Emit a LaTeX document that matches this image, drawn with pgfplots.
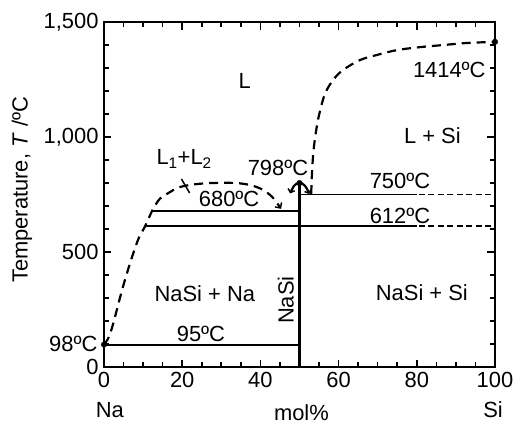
\documentclass[border=0pt]{standalone}
\usepackage{fontspec}
\setmainfont{Liberation Sans}
\usepackage{pgfplots}
\pgfplotsset{compat=1.18}
\usetikzlibrary{arrows.meta}

\newcommand{\lbl}{\fontsize{22}{26}\selectfont}

\begin{document}
\begin{tikzpicture}
\begin{axis}[
  scale only axis,
  width=391bp, height=345bp,
  xmin=0, xmax=100, ymin=0, ymax=1500,
  clip=false,
  axis line style={line width=2pt},
  xtick={0,20,...,100}, ytick={0,500,1000,1500},
  minor x tick num=3, minor y tick num=4,
  tick align=inside,
  major tick length=7.5bp, minor tick length=5bp,
  every tick/.style={line width=1.6pt, black},
  /pgf/number format/assume math mode=true,
  /pgf/number format/1000 sep={,},
  tick label style={font=\lbl},
  xticklabel style={yshift=-2bp},
  yticklabel style={xshift=-2bp},
]
% overall extent of the figure
\path (axis cs:-26.6,-252) rectangle (axis cs:106.4,1596);

% liquidus, Na side
\addplot[line width=2.2pt, dash pattern=on 9bp off 6bp, smooth, tension=0.5,
  -{Straight Barb[length=4bp,width=8bp,line width=1.5pt]}]
  coordinates {(0,98) (1,122) (2,168) (3,230) (4,296) (5,358) (6,415) (7,470)
    (8,520) (9,565) (10.5,612) (12.4,682) (14.3,732) (16.9,761) (18.9,780)
    (22,792) (26,799) (30,801) (34,800) (37.5,791)
    (40.5,772) (43,740) (45.3,688)};

% liquidus, Si side
\addplot[line width=2.2pt, dash pattern=on 9bp off 6bp, smooth, tension=0.6]
  coordinates {(53,752) (53.2,843) (53.6,943) (54.4,1043) (55.3,1117) (56.6,1191)
    (58.6,1248) (61.1,1291) (65.5,1335) (69.8,1357) (74.9,1378) (80.8,1391)
    (86.7,1400) (92.8,1409) (100,1414)};

% congruent melting of NaSi
\addplot[line width=2.2pt, smooth, tension=0.8,
  {Straight Barb[length=3bp,width=7bp,line width=1.5pt]}-{Straight Barb[length=3bp,width=7bp,line width=1.5pt]}]
  coordinates {(47.6,755) (48.6,788) (50,800) (51.4,788) (52.5,752)};

% NaSi line compound
\addplot[line width=2.2pt] coordinates {(50,0) (50,798)};

% invariant horizontals
\addplot[line width=1.8pt] coordinates {(0,95) (50,95)};
\addplot[line width=1.8pt] coordinates {(12.4,680) (50,680)};
\addplot[line width=1.8pt] coordinates {(10.5,612) (80,612)};
\addplot[line width=1.8pt, dash pattern=on 6bp off 3.5bp] coordinates {(80.5,612) (100,612)};
\addplot[line width=1.8pt] coordinates {(50,750) (80,750)};
\addplot[line width=1.8pt, dash pattern=on 6bp off 3.5bp] coordinates {(80.5,750) (100,750)};

% pointer for the miscibility gap
\addplot[line width=1.5pt] coordinates {(19.8,818) (21.9,757)};

% melting points
\addplot[only marks, mark=*, mark size=2.8bp, black]
  coordinates {(0,98) (50,800) (100,1414)};

% phase fields and temperatures
\node[font=\lbl] at (axis cs:36,1243) {L};
\node[font=\lbl] at (axis cs:84,1004) {L + Si};
\node[font=\lbl, anchor=east] at (axis cs:98.5,1291) {1414ºC};
\node[font=\lbl] at (axis cs:20.5,905) {L\textsubscript{1}+L\textsubscript{2}};
\node[font=\lbl] at (axis cs:44.5,866) {798ºC};
\node[font=\lbl] at (axis cs:32,730) {680ºC};
\node[font=\lbl] at (axis cs:75.7,809) {750ºC};
\node[font=\lbl] at (axis cs:75.7,657) {612ºC};
\node[font=\lbl] at (axis cs:25.8,317) {NaSi + Na};
\node[font=\lbl, rotate=90] at (axis cs:46.5,291) {NaSi};
\node[font=\lbl] at (axis cs:81.3,322) {NaSi + Si};
\node[font=\lbl] at (axis cs:24.8,143) {95ºC};
\node[font=\lbl, anchor=east] at (axis cs:-0.8,100) {98ºC};

% axis titles
\node[font=\lbl, rotate=90] at (axis cs:-21,770) {Temperature, \textit{T} /ºC};
\node[font=\lbl] at (axis cs:1.5,-187) {Na};
\node[font=\lbl] at (axis cs:50.5,-200) {mol\%};
\node[font=\lbl] at (axis cs:99.5,-187) {Si};
\end{axis}
\end{tikzpicture}
\end{document}
